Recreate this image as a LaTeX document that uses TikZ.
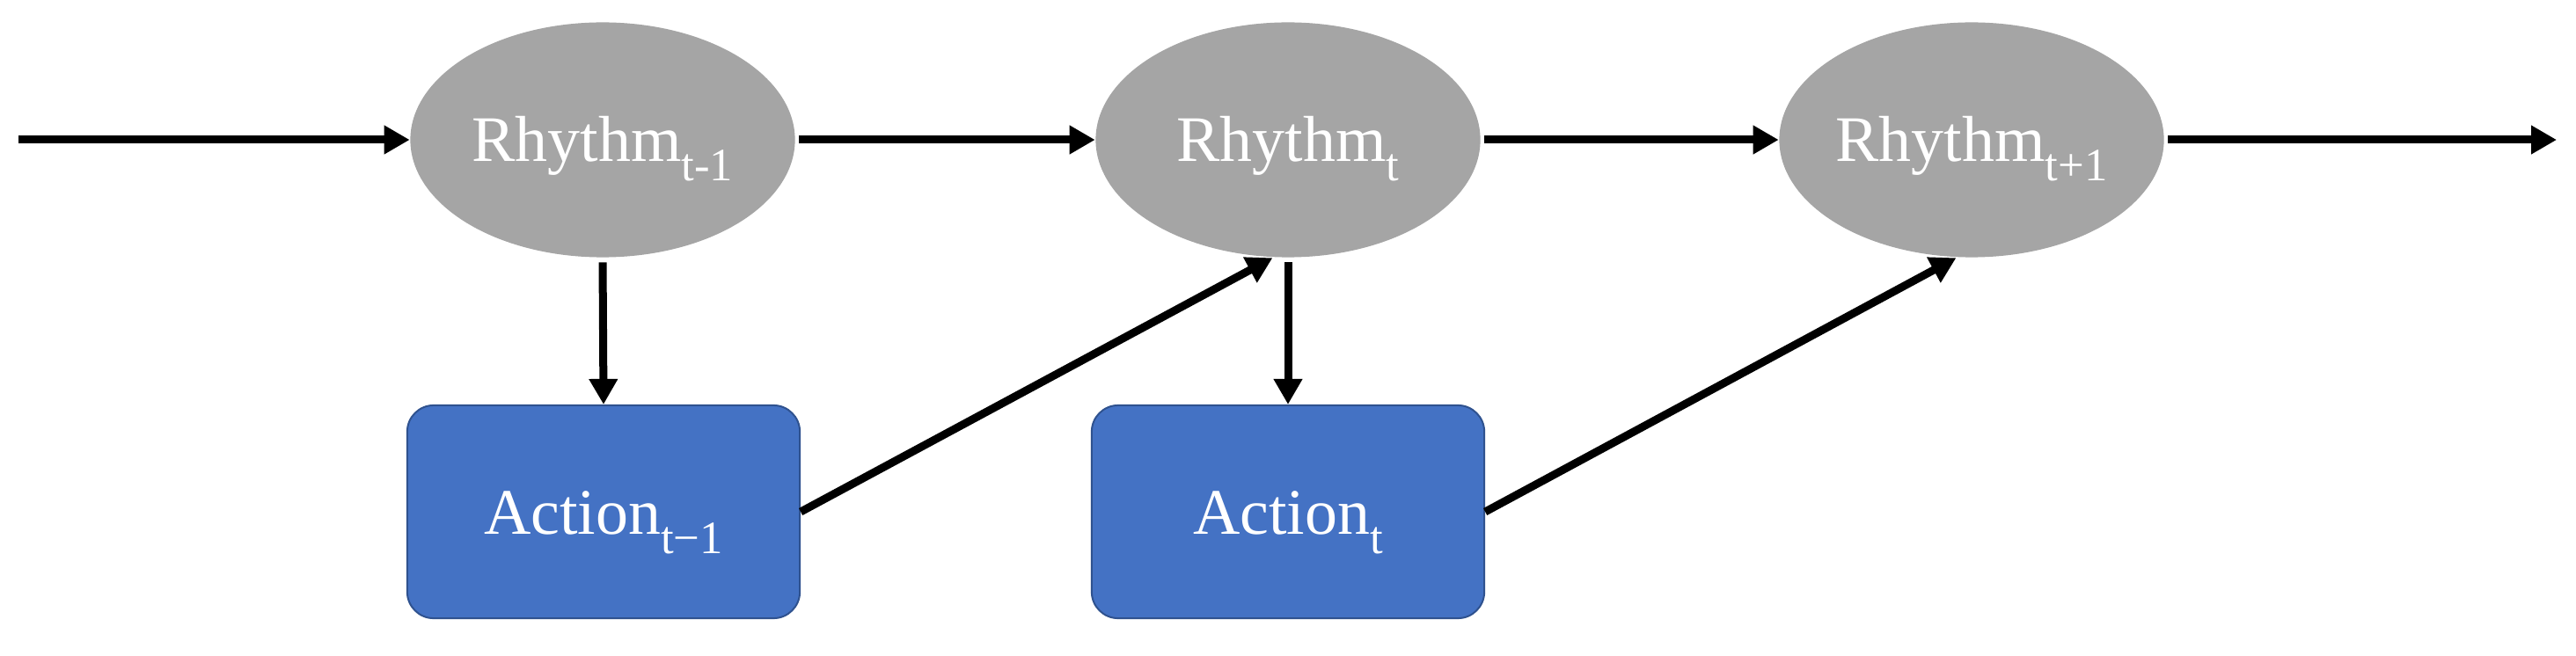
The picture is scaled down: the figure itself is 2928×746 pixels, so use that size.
\documentclass[tikz,border=0pt]{standalone}
\usepackage{fontspec}
\setmainfont{Liberation Serif}
\usetikzlibrary{shapes.geometric,arrows.meta}
\definecolor{ellgray}{HTML}{A5A5A5}
\definecolor{actblue}{HTML}{4472C4}
\definecolor{actborder}{HTML}{2F528F}
\newcommand\mysub[1]{\raisebox{-0.3em}{\fontsize{15}{18}\selectfont #1}}
\begin{document}
\begin{tikzpicture}[x=0.01cm,y=-0.01cm,
  ell/.style={ellipse, fill=ellgray, draw=none, minimum width=4.37cm, minimum height=2.67cm, inner sep=0pt,
    text=white, font=\fontsize{21}{24}\selectfont, text height=0.48cm, text depth=0cm},
  act/.style={rectangle, rounded corners=0.3cm, fill=actblue, draw=actborder, line width=0.02cm,
    minimum width=4.46cm, minimum height=2.42cm, inner sep=0pt,
    text=white, font=\fontsize{21}{24}\selectfont, text height=0.5cm, text depth=0cm},
  arr/.style={line width=0.09cm, -{Triangle[length=0.29cm,width=0.31cm]}}
]
\useasboundingbox (0,0) rectangle (2928,746);
\node[ell] (r1) at (685,159) {Rhythm\mysub{t-1}};
\node[ell] (r2) at (1464,159) {Rhythm\mysub{t}};
\node[ell] (r3) at (2241,159) {Rhythm\mysub{t+1}};
\node[act] (a1) at (686,582) {Action\mysub{t−1}};
\node[act] (a2) at (1464,582) {Action\mysub{t}};
\coordinate (s) at (21,159);
\coordinate (e) at (2906,159);
\draw[arr] (s) -- (r1);
\draw[arr, shorten <=0.04cm] (r1) -- (r2);
\draw[arr, shorten <=0.04cm] (r2) -- (r3);
\draw[arr, shorten <=0.04cm] (r3) -- (e);
\draw[arr, shorten <=0.05cm] (r1.south) -- (a1.north);
\draw[arr, shorten <=0.05cm] (r2.south) -- (a2.north);
\draw[arr] (a1.east) -- ([xshift=-5]r2.south);
\draw[arr] (a2.east) -- ([xshift=-5]r3.south);
\end{tikzpicture}
\end{document}
